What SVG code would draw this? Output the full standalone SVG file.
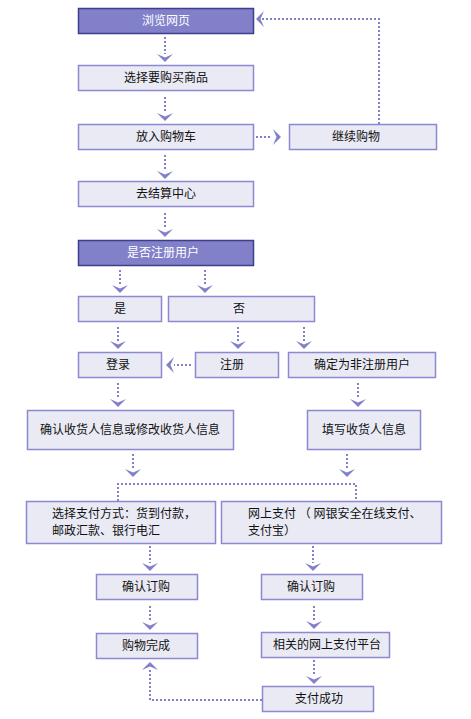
<svg xmlns="http://www.w3.org/2000/svg" xmlns:xlink="http://www.w3.org/1999/xlink" width="471" height="719" viewBox="0 0 471 719">
<style>
.b{fill:#EAEAF5;stroke:#8C88D2;stroke-width:1.5}
.h{fill:#8180C9;stroke:#3E3E8E;stroke-width:1.5}
.t{font-family:"Noto Sans CJK SC","Noto Sans CJK JP",sans-serif;font-size:12px;fill:#111}
.c{text-anchor:middle}
.w{fill:#fff}
.d{fill:none;stroke:#8080CC;stroke-width:2;stroke-dasharray:2 2}
.a{fill:#8080CC}
</style>
<defs>
<path id="ad" d="M-8,-4 L0,-0.5 L8,-4 L0,4 Z"/>
</defs>
<rect width="471" height="719" fill="#fff"/>
<g id="connectors">
<g class="d">
<path d="M165,37V54"/>
<path d="M165,97V113"/>
<path d="M165,155V171"/>
<path d="M165,213V229"/>
<path d="M120,270V285"/>
<path d="M205,270V285"/>
<path d="M118,327V341"/>
<path d="M238,327V341"/>
<path d="M304,327V341"/>
<path d="M118,383V399"/>
<path d="M358,383V399"/>
<path d="M133,454V469"/>
<path d="M347,454V469"/>
<path d="M118,501V484H356V501"/>
<path d="M150,546V563"/>
<path d="M313,546V563"/>
<path d="M150,606V622"/>
<path d="M314,606V621"/>
<path d="M314,660V676"/>
<path d="M256,137H272"/>
<path d="M379,124V19H262"/>
<path d="M191,365H174"/>
<path d="M262,700H150V668"/>
</g>
<g class="a">
<use xlink:href="#ad" transform="translate(165,58)"/>
<use xlink:href="#ad" transform="translate(165,117)"/>
<use xlink:href="#ad" transform="translate(165,175)"/>
<use xlink:href="#ad" transform="translate(165,233)"/>
<use xlink:href="#ad" transform="translate(120,289)"/>
<use xlink:href="#ad" transform="translate(205,289)"/>
<use xlink:href="#ad" transform="translate(118,345)"/>
<use xlink:href="#ad" transform="translate(238,345)"/>
<use xlink:href="#ad" transform="translate(304,345)"/>
<use xlink:href="#ad" transform="translate(118,403)"/>
<use xlink:href="#ad" transform="translate(358,403)"/>
<use xlink:href="#ad" transform="translate(133,473)"/>
<use xlink:href="#ad" transform="translate(347,473)"/>
<use xlink:href="#ad" transform="translate(150,567)"/>
<use xlink:href="#ad" transform="translate(313,567)"/>
<use xlink:href="#ad" transform="translate(150,626)"/>
<use xlink:href="#ad" transform="translate(314,625)"/>
<use xlink:href="#ad" transform="translate(314,680)"/>
<use xlink:href="#ad" transform="translate(277,137) rotate(-90)"/>
<use xlink:href="#ad" transform="translate(260,19) rotate(90)"/>
<use xlink:href="#ad" transform="translate(170,365) rotate(90)"/>
<use xlink:href="#ad" transform="translate(150,666) rotate(180)"/>
</g>
</g>
<g id="n1"><rect class="h" x="78.5" y="8.5" width="175" height="25"/><text class="t c w" x="166" y="25">浏览网页</text></g>
<g id="n2"><rect class="b" x="78.5" y="65.5" width="175" height="25"/><text class="t c" x="166" y="82">选择要购买商品</text></g>
<g id="n3"><rect class="b" x="78.5" y="124.5" width="175" height="25"/><text class="t c" x="166" y="141">放入购物车</text></g>
<g id="n4"><rect class="b" x="289.5" y="124.5" width="147" height="25"/><text class="t c" x="356" y="141">继续购物</text></g>
<g id="n5"><rect class="b" x="78.5" y="181.5" width="175" height="25"/><text class="t c" x="166" y="198">去结算中心</text></g>
<g id="n6"><rect class="h" x="78.5" y="240.5" width="175" height="25"/><text class="t c w" x="163" y="257">是否注册用户</text></g>
<g id="n7"><rect class="b" x="78.5" y="296.5" width="83" height="25"/><text class="t c" x="120" y="313">是</text></g>
<g id="n8"><rect class="b" x="168.5" y="296.5" width="146" height="25"/><text class="t c" x="239" y="313">否</text></g>
<g id="n9"><rect class="b" x="78.5" y="352.5" width="83" height="25"/><text class="t c" x="118" y="369">登录</text></g>
<g id="n10"><rect class="b" x="195.5" y="352.5" width="83" height="25"/><text class="t c" x="232" y="369">注册</text></g>
<g id="n11"><rect class="b" x="288.5" y="352.5" width="147" height="25"/><text class="t c" x="362" y="369">确定为非注册用户</text></g>
<g id="n12"><rect class="b" x="27.5" y="410.5" width="206" height="39"/><text class="t c" x="130" y="434">确认收货人信息或修改收货人信息</text></g>
<g id="n13"><rect class="b" x="307.5" y="410.5" width="113" height="39"/><text class="t c" x="364" y="434">填写收货人信息</text></g>
<g id="n14"><rect class="b" x="26.5" y="501.5" width="189" height="42"/><text class="t" x="52" y="518">选择支付方式：货到付款，</text><text class="t" x="52" y="535">邮政汇款、银行电汇</text></g>
<g id="n15"><rect class="b" x="221.5" y="501.5" width="220" height="42"/><text class="t" x="248" y="518" xml:space="preserve">网上支付 （ 网银安全在线支付、</text><text class="t" x="248" y="535">支付宝）</text></g>
<g id="n16"><rect class="b" x="96.5" y="574.5" width="101" height="25"/><text class="t c" x="146" y="591">确认订购</text></g>
<g id="n17"><rect class="b" x="261.5" y="574.5" width="101" height="25"/><text class="t c" x="311" y="591">确认订购</text></g>
<g id="n18"><rect class="b" x="96.5" y="633.5" width="101" height="25"/><text class="t c" x="146" y="650">购物完成</text></g>
<g id="n19"><rect class="b" x="261.5" y="632.5" width="128" height="25"/><text class="t c" x="327" y="649">相关的网上支付平台</text></g>
<g id="n20"><rect class="b" x="262.5" y="686.5" width="111" height="25"/><text class="t c" x="319" y="703">支付成功</text></g>
</svg>
